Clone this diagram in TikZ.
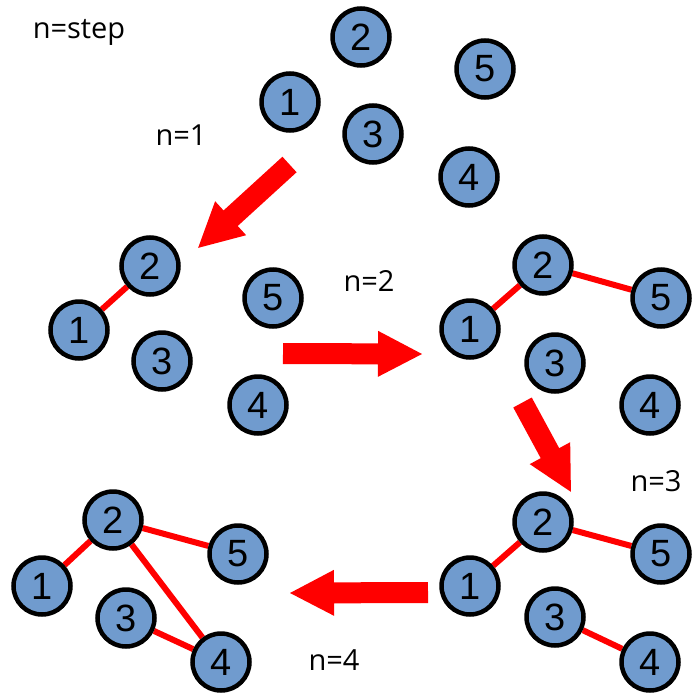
\documentclass[tikz,border=0pt]{standalone}
\usepackage{fontspec}
\setmainfont{Liberation Sans}
\newfontfamily\labelfont{Open Sans}
\usetikzlibrary{calc,backgrounds}

\definecolor{nodeblue}{RGB}{112,155,206}
\definecolor{edgered}{RGB}{255,0,0}

\tikzset{
  vertex/.style={circle, draw=black, line width=4.5pt, fill=nodeblue,
    minimum size=57pt, inner sep=0pt, font=\fontsize{38}{38}\selectfont},
  link/.style={draw=edgered, line width=6pt},
  steplabel/.style={anchor=base, inner sep=0pt,
    font=\labelfont\fontsize{29}{29}\selectfont},
}

% Filled block arrow from coordinate #1 (tail) to coordinate #2 (tip)
\newcommand\blockarrow[2]{%
  \path let \p1=($(#2)-(#1)$) in
    \pgfextra{\pgfmathsetmacro\arrang{atan2(\y1,\x1)}%
              \pgfmathsetmacro\arrlen{veclen(\x1,\y1)}%
              \xdef\ArrAng{\arrang}\xdef\ArrLen{\arrlen}};
  \begin{scope}[shift={(#1)}, rotate=\ArrAng]
    \fill[edgered] (0,-10.5) -- (\ArrLen-44,-10.5) -- (\ArrLen-44,-23)
      -- (\ArrLen,0) -- (\ArrLen-44,23) -- (\ArrLen-44,10.5) -- (0,10.5) -- cycle;
  \end{scope}
}

\begin{document}
\begin{tikzpicture}[x=1pt, y=-1pt]
\useasboundingbox (0,0) rectangle (691,693);

% step labels
\node[steplabel] (lstep) at (79,38) {n=step};
\node[steplabel] (l1) at (181,145) {n=1};
\node[steplabel] (l2) at (369,291) {n=2};
\node[steplabel] (l3) at (656,491) {n=3};
\node[steplabel] (l4) at (334,670) {n=4};

% initial graph: no edges
\node[vertex] (a2) at (361,37)  {2};
\node[vertex] (a1) at (290,102) {1};
\node[vertex] (a3) at (373,134) {3};
\node[vertex] (a5) at (485,69)  {5};
\node[vertex] (a4) at (469,177) {4};

% after step 1
\node[vertex] (b2) at (150,266) {2};
\node[vertex] (b1) at (79,330)  {1};
\node[vertex] (b5) at (273,298) {5};
\node[vertex] (b3) at (162,361) {3};
\node[vertex] (b4) at (258,405) {4};

% after step 2
\node[vertex] (c2) at (543,265) {2};
\node[vertex] (c1) at (470,329) {1};
\node[vertex] (c5) at (661,298) {5};
\node[vertex] (c3) at (555,363) {3};
\node[vertex] (c4) at (650,405) {4};

% after step 3
\node[vertex] (d2) at (543,522) {2};
\node[vertex] (d1) at (470,586) {1};
\node[vertex] (d5) at (661,554) {5};
\node[vertex] (d3) at (555,617) {3};
\node[vertex] (d4) at (650,662) {4};

% after step 4
\node[vertex] (e2) at (113,520) {2};
\node[vertex] (e1) at (42,586)  {1};
\node[vertex] (e5) at (238,554) {5};
\node[vertex] (e3) at (126,618) {3};
\node[vertex] (e4) at (221,662) {4};

\begin{scope}[on background layer]
  \draw[link] (b1) -- (b2);
  \draw[link] (c1) -- (c2);
  \draw[link] (c2) -- (c5);
  \draw[link] (d1) -- (d2);
  \draw[link] (d2) -- (d5);
  \draw[link] (d3) -- (d4);
  \draw[link] (e1) -- (e2);
  \draw[link] (e2) -- (e5);
  \draw[link] (e3) -- (e4);
  \draw[link] (e2) -- (e4);
\end{scope}

% transition arrows
\coordinate (t1) at (289.5,164.5); \coordinate (h1) at (198,248);
\coordinate (t2) at (283,353.5);   \coordinate (h2) at (422,354);
\coordinate (t3) at (522.5,402.5); \coordinate (h3) at (571,492);
\coordinate (t4) at (428,592.5);   \coordinate (h4) at (290,593);
\blockarrow{t1}{h1}
\blockarrow{t2}{h2}
\blockarrow{t3}{h3}
\blockarrow{t4}{h4}
\end{tikzpicture}
\end{document}
